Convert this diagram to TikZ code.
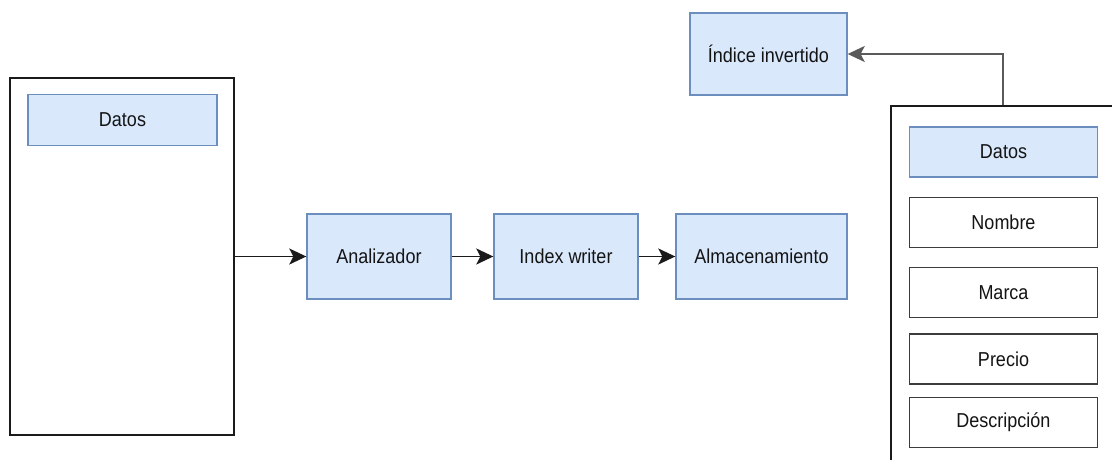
\documentclass[tikz,border=0pt]{standalone}
\usepackage{fontspec}
\setmainfont{Liberation Sans}
\usetikzlibrary{arrows.meta,positioning}
\definecolor{boxfill}{HTML}{DAE8FC}
\definecolor{boxline}{HTML}{6C8EBF}
\definecolor{frame}{HTML}{1A1A1A}
\definecolor{conn}{HTML}{5A5A5A}
% labels are set slightly taller than wide
\newcommand{\tall}[1]{\scalebox{1}[1.12]{#1}}
\tikzset{
  lbl/.style={font=\fontsize{18}{21}\selectfont, text=black!92},
  bluebox/.style={lbl, draw=boxline, fill=boxfill, line width=1.4pt, inner sep=0pt},
  fieldbox/.style={lbl, draw=frame!85, fill=white, line width=1.4pt, inner sep=0pt,
    minimum width=188, minimum height=50},
  container/.style={draw=frame, line width=1.7pt, fill=white, inner sep=0pt,
    minimum width=224, minimum height=357},
  arr/.style={line width=1.6pt, -{Stealth[length=17pt,width=16pt,inset=4pt]}},
}
\begin{document}
\begin{tikzpicture}[x=1pt,y=-1pt]
\useasboundingbox (0,0) rectangle (1112,460);
\clip (0,0) rectangle (1112,460);
\fill[white] (0,0) rectangle (1112,460);

% left container with its header
\node[container] (lc) at (122,256.5) {};
\node[bluebox, minimum width=189, minimum height=51] (ld) at (122.5,120) {\tall{Datos}};

% processing chain
\node[bluebox, minimum width=144, minimum height=85] (an) at (379,256.5) {\tall{Analizador}};
\node[bluebox, minimum width=144, minimum height=85] (iw) at (566,256.5) {\tall{Index writer}};
\node[bluebox, minimum width=171, minimum height=85] (al) at (761.5,256.5) {\tall{Almacenamiento}};

% inverted index
\node[bluebox, minimum width=157, minimum height=82] (ii) at (768.5,54) {\tall{Índice invertido}};

% right container with its fields
\node[container, minimum height=357] (rc) at (1003,284.5) {};
\node[bluebox, minimum width=188, minimum height=50] (rd) at (1003.5,152) {\tall{Datos}};
\node[fieldbox] (f1) at (1003.5,222.5) {\tall{Nombre}};
\node[fieldbox] (f2) at (1003.5,292.5) {\tall{Marca}};
\node[fieldbox] (f3) at (1003.5,359) {\tall{Precio}};
\node[fieldbox] (f4) at (1003.5,422.5) {\tall{Descripción}};

% connectors
\draw[arr, frame] (lc.east) -- (an.west);
\draw[arr, frame] (an.east) -- (iw.west);
\draw[arr, frame] (iw.east) -- (al.west);
\draw[arr, conn] (rc.north) |- (ii.east);
\end{tikzpicture}
\end{document}
